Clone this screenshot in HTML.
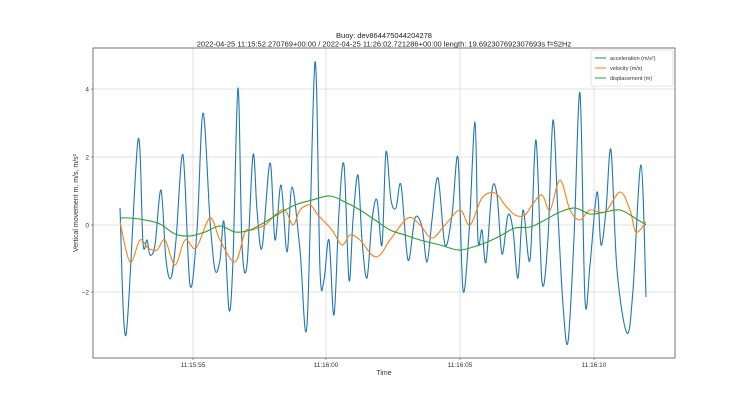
<!DOCTYPE html>
<html><head><meta charset="utf-8"><style>
html,body{margin:0;padding:0;background:#fff;}
svg{display:block;font-family:"Liberation Sans","DejaVu Sans",sans-serif;}
</style></head><body>
<svg id="s" width="748" height="403" viewBox="0 0 748 403">
<rect width="748" height="403" fill="#fff"/>
<text x="384" y="38" font-size="7.5" text-anchor="middle" fill="#222">Buoy: dev864475044204278</text>
<text x="384" y="46.5" font-size="7.5" text-anchor="middle" fill="#222">2022-04-25 11:15:52.270769+00:00 / 2022-04-25 11:26:02.721286+00:00 length: 19.692307692307693s f=52Hz</text>
<g stroke="#d9d9d9" stroke-width="0.8">
<line x1="193" y1="48" x2="193" y2="358"/><line x1="326" y1="48" x2="326" y2="358"/>
<line x1="460" y1="48" x2="460" y2="358"/><line x1="594" y1="48" x2="594" y2="358"/>
<line x1="93" y1="89" x2="675" y2="89"/><line x1="93" y1="157" x2="675" y2="157"/>
<line x1="93" y1="225" x2="675" y2="225"/><line x1="93" y1="292" x2="675" y2="292"/>
</g>
<g id="curves" fill="none" stroke-width="1.1" stroke-linejoin="round"></g>
<rect x="93" y="48" width="582" height="310" fill="none" stroke="#555" stroke-width="0.8"/>
<g font-size="6.5" fill="#333">
<text x="89" y="91.5" text-anchor="end">4</text><text x="89" y="159.5" text-anchor="end">2</text>
<text x="89" y="227.5" text-anchor="end">0</text><text x="89" y="294.5" text-anchor="end">−2</text>
<text x="193" y="367" text-anchor="middle">11:15:55</text><text x="326" y="367" text-anchor="middle">11:16:00</text>
<text x="460" y="367" text-anchor="middle">11:16:05</text><text x="594" y="367" text-anchor="middle">11:16:10</text>
<text x="384" y="375" text-anchor="middle" font-size="7">Time</text>
<text transform="translate(78,203) rotate(-90)" text-anchor="middle" font-size="7">Vertical movement m, m/s, m/s²</text>
</g>
<g stroke="#555" stroke-width="0.6">
<line x1="91" y1="89" x2="93" y2="89"/><line x1="91" y1="157" x2="93" y2="157"/><line x1="91" y1="225" x2="93" y2="225"/><line x1="91" y1="292" x2="93" y2="292"/>
<line x1="193" y1="358" x2="193" y2="360"/><line x1="326" y1="358" x2="326" y2="360"/><line x1="460" y1="358" x2="460" y2="360"/><line x1="594" y1="358" x2="594" y2="360"/>
</g>
<rect x="591" y="50" width="82" height="36" fill="#fff" fill-opacity="0.9" stroke="#ccc" stroke-width="0.6" rx="2"/>
<g font-size="5.5" fill="#333">
<line x1="595" y1="58" x2="606" y2="58" stroke="#1f77b4"/><text x="610" y="60">acceleration (m/s²)</text>
<line x1="595" y1="68" x2="606" y2="68" stroke="#ff7f0e"/><text x="610" y="70">velocity (m/s)</text>
<line x1="595" y1="78" x2="606" y2="78" stroke="#2ca02c"/><text x="610" y="80">displacement (m)</text>
</g>
</svg>
<script>
function cr(p){var d="M"+p[0]+","+p[1];var pts=[];for(var i=0;i<p.length;i+=2)pts.push([p[i],p[i+1]]);
for(var i=0;i<pts.length-1;i++){var p0=pts[i-1]||pts[i],p1=pts[i],p2=pts[i+1],p3=pts[i+2]||p2;
var c1x=p1[0]+(p2[0]-p0[0])/6,c1y=p1[1]+(p2[1]-p0[1])/6,c2x=p2[0]-(p3[0]-p1[0])/6,c2y=p2[1]-(p3[1]-p1[1])/6;
d+=" C"+c1x.toFixed(1)+","+c1y.toFixed(1)+" "+c2x.toFixed(1)+","+c2y.toFixed(1)+" "+p2[0]+","+p2[1];}return d;}
var acc=[120,208,126,335,138,140,143,243,147,240,150,255,155,245,161,190,166,260,171,278,176,240,183,155,190,285,197,230,203,113,210,220,215,270,220,260,224,222,229,310,233,260,238,88,242,245,247,265,253,155,257,210,262,248,270,163,275,240,281,185,287,252,292,187,300,250,307,325,315,62,320,270,324,280,329,240,334,315,339,212,344,165,349,280,353,220,358,175,362,240,367,278,372,220,377,200,382,245,386,152,391,200,396,208,401,185,408,260,415,218,422,227,427,262,432,220,438,178,445,245,452,215,458,158,463,290,469,233,475,122,478,240,482,230,486,262,492,190,497,195,502,254,508,215,513,230,518,278,523,210,530,260,536,140,542,282,548,238,553,120,558,215,563,305,568,342,574,238,580,93,585,300,590,265,597,192,601,245,606,210,611,150,617,270,627,333,633,290,641,165,646,297];
var vel=[120,222,130,262,140,240,148,248,157,250,165,240,175,265,185,240,196,248,210,218,220,240,235,262,245,232,252,230,265,225,275,215,285,210,293,225,300,210,310,205,318,215,332,230,342,245,350,235,360,240,372,255,380,255,390,240,408,218,420,225,432,238,445,225,460,210,470,225,482,198,495,193,505,205,515,215,525,215,532,205,542,195,550,210,560,180,570,210,580,220,590,210,605,212,620,192,630,210,636,232,646,222];
var dis=[120,218,130,218,145,220,160,224,175,234,190,236,205,232,220,226,235,232,250,230,265,222,280,213,295,205,312,200,330,196,345,202,360,210,375,220,390,230,405,235,420,240,440,245,458,250,470,248,485,243,500,236,515,228,530,227,545,220,560,212,575,208,590,214,605,212,620,210,635,218,646,225];
var g=document.getElementById("curves");
[[acc,"#1f77b4"],[vel,"#ff7f0e"],[dis,"#2ca02c"]].forEach(function(a){var e=document.createElementNS("http://www.w3.org/2000/svg","path");e.setAttribute("d",cr(a[0]));e.setAttribute("stroke",a[1]);g.appendChild(e);});
</script>
</body></html>
